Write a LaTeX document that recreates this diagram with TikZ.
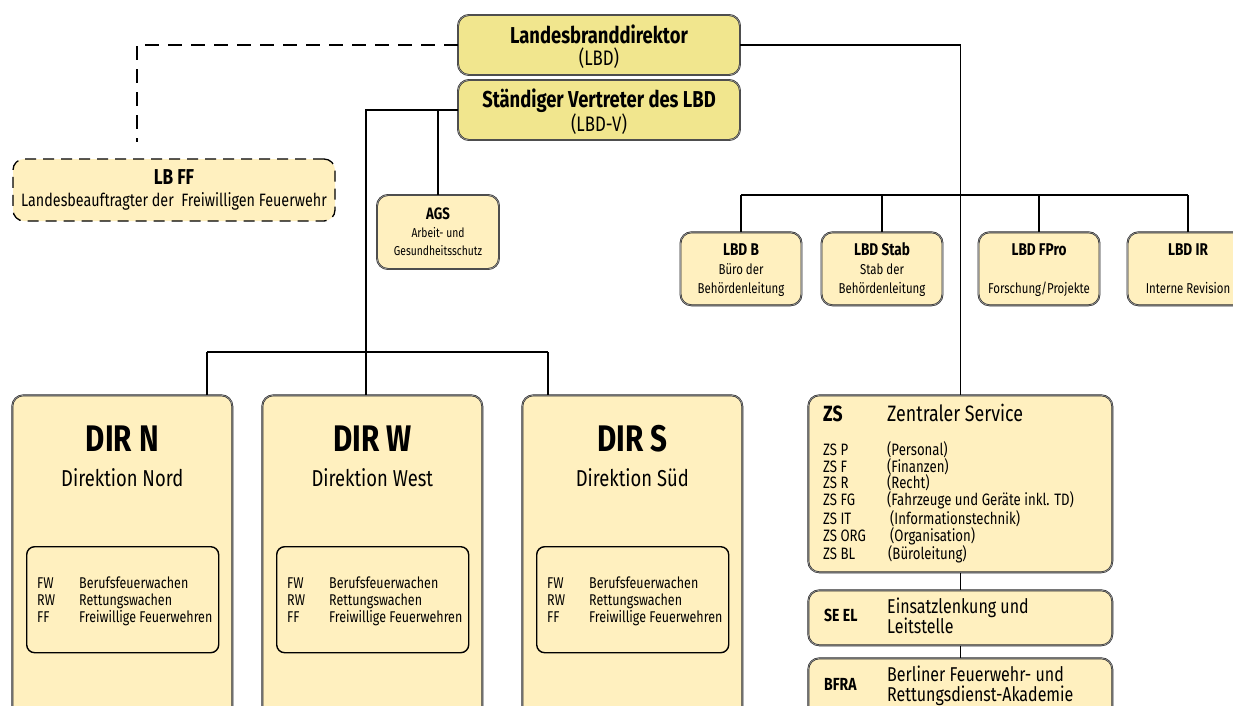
\documentclass[tikz,border=0pt]{standalone}
\usepackage{fontspec}
\setmainfont{Fira Sans}[FakeStretch=0.8]
\usetikzlibrary{positioning}
\definecolor{headfill}{HTML}{F1E68E}
\definecolor{unitfill}{HTML}{FFF0BF}
\newcommand{\fsz}[2]{\fontsize{#1pt}{#2pt}\selectfont}
\tikzset{unit box/.style={draw=black!85,double=black!40,double distance=0.7pt,line width=0.6pt,
                          rounded corners=11pt,fill=unitfill,inner sep=0pt,anchor=north west},
         head box/.style={unit box,fill=headfill,anchor=center,align=center,text depth=0pt,
                          minimum width=282pt,minimum height=60pt},
         ff box/.style={draw=black,line width=1.3pt,dash pattern=on 11pt off 7pt,rounded corners=11pt,
                        fill=unitfill,align=center,minimum width=322pt,minimum height=62pt,inner sep=0pt},
         list box/.style={draw=black,line width=1.4pt,rounded corners=8pt,anchor=north west,
                          minimum width=192pt,minimum height=106pt},
         txt/.style={inner sep=0pt},
         link/.style={draw=black,line width=1.3pt},
         ff link/.style={draw=black,line width=1.3pt,dash pattern=on 14pt off 9pt},
            }

\begin{document}
\begin{tikzpicture}[x=1pt,y=-1pt]
    \useasboundingbox (0,0) rectangle (1233,705);
    \clip (0,0) rectangle (1233,705);

    % Leitung
    \node[head box,font=\fsz{21}{22.5}] (lbd) at (599,45)
        {{\bfseries\fsz{23}{22.5}Landesbranddirektor}\\(LBD)};
    \node[head box,font=\fsz{21}{22.5}] (lbdv) at (599,110)
        {{\bfseries\fsz{23}{22.5}Ständiger Vertreter des LBD}\\(LBD-V)};

    % Beauftragter FF
    \node[ff box,font=\fsz{17.9}{22}] (lbff) at (174,190)
        {{\bfseries\fsz{21.5}{22}LB FF}\\Landesbeauftragter der\ \ Freiwilligen Feuerwehr};
    \coordinate (ffend) at (137,142);

    % AGS
    \node[unit box,anchor=center,align=center,minimum width=122pt,minimum height=74pt,
          font=\fsz{12.9}{18}] (ags) at (438,232)
        {{\bfseries\fsz{16.5}{18}AGS}\\Arbeit- und\\Gesundheitsschutz};

    % Stabsstellen
    \coordinate (staffbus) at (0,195);
    \foreach \nm/\cx/\ttl/\desc in {lbdb/741/LBD B/{Büro der\\Behördenleitung},
                                    lbdstab/882/LBD Stab/{Stab der\\Behördenleitung},
                                    lbdfpro/1039/LBD FPro/{Forschung/Projekte},
                                    lbdir/1188/LBD IR/{Interne Revision}} {
        \node[unit box,anchor=north,minimum width=121pt,minimum height=73pt] (\nm) at (\cx,232) {};
        \node[txt,anchor=base,font=\fsz{17}{18}\bfseries] (\nm-title) at ([yshift=-23pt]\nm.north) {\ttl};
        \node[txt,anchor=south,align=center,text depth=3pt,font=\fsz{14.3}{19}] (\nm-desc)
            at ([yshift=9pt]\nm.south) {\desc};
        \draw[link] (\nm.north) -- (\nm.north |- staffbus);
    }
    \draw[link] (lbdb.north |- staffbus) -- (lbdir.north |- staffbus);

    % Direktionen
    \foreach \nm/\x/\lt/\nam/\jx in {dirn/12/N/Nord/207, dirw/262/W/West/366, dirs/522/S/Süd/548} {
        \node[unit box,minimum width=220pt,minimum height=330pt] (\nm) at (\x,395) {};
        \node[txt,font=\fsz{37}{38}\bfseries] (\nm-title) at ([yshift=-44pt]\nm.north) {DIR \lt};
        \node[txt,font=\fsz{23}{26}] (\nm-name) at ([yshift=-83pt]\nm.north) {Direktion \nam};
        \node[list box] (\nm-list) at ([xshift=14pt,yshift=-151pt]\nm.north west) {};
        \node[txt,anchor=west,align=left,font=\fsz{15.6}{17}] (\nm-text)
            at ([xshift=11pt,yshift=-55pt]\nm-list.north west)
            {\makebox[42pt][l]{FW}Berufsfeuerwachen\\
             \makebox[42pt][l]{RW}Rettungswachen\\
             \makebox[42pt][l]{FF}Freiwillige Feuerwehren};
        \coordinate (\nm-j) at (\jx,352);
        \draw[link] (\nm-j) -- (\nm-j |- \nm.north);
    }
    \draw[link] (dirn-j) -- (dirs-j);

    % Zentraler Service und weitere Abteilungen
    \node[unit box,minimum width=304pt,minimum height=177pt] (zs) at (808,395) {};
    \node[txt,anchor=base west,font=\fsz{22}{24}\bfseries] (zs-code) at ([xshift=15pt,yshift=-26pt]zs.north west) {ZS};
    \node[txt,anchor=base west,font=\fsz{22.3}{24}] (zs-name) at ([xshift=64pt]zs-code.base west) {Zentraler Service};
    \node[txt,anchor=north west,align=left,font=\fsz{16.5}{16.9}] (zs-list) at ([xshift=15pt,yshift=-46pt]zs.north west)
        {\makebox[64pt][l]{ZS P}(Personal)\\
         \makebox[64pt][l]{ZS F}(Finanzen)\\
         \makebox[64pt][l]{ZS R}(Recht)\\
         \makebox[64pt][l]{ZS FG}(Fahrzeuge und Geräte inkl. TD)\\
         \makebox[67pt][l]{ZS IT}(Informationstechnik)\\
         \makebox[67pt][l]{ZS ORG}(Organisation)\\
         \makebox[65pt][l]{ZS BL}(Büroleitung)};

    \node[unit box,minimum width=304pt,minimum height=55pt] (seel) at (808,590) {};
    \node[txt,anchor=base west,font=\fsz{17.5}{18}\bfseries] (seel-code) at ([xshift=16pt,yshift=-31pt]seel.north west) {SE EL};
    \node[txt,anchor=west,align=left,font=\fsz{20}{20}] (seel-name) at ([xshift=79pt,yshift=-26pt]seel.north west)
        {Einsatzlenkung und\\Leitstelle};

    \node[unit box,minimum width=304pt,minimum height=60pt] (bfra) at (808,658) {};
    \node[txt,anchor=base west,font=\fsz{17.5}{18}\bfseries] (bfra-code) at ([xshift=16pt,yshift=-32pt]bfra.north west) {BFRA};
    \node[txt,anchor=west,align=left,font=\fsz{20}{20}] (bfra-name) at ([xshift=79pt,yshift=-28pt]bfra.north west)
        {Berliner Feuerwehr- und\\Rettungsdienst-Akademie};

    % Verbindungen
    \draw[ff link] (lbd.west) -| (ffend);
    \draw[link] (lbdv.west) -| (dirw-j);
    \draw[link] (ags.north) |- (lbdv.west);
    \draw[link] (lbd.east) -| (zs.north);
    \draw[link] (zs.south) -- (seel.north);
    \draw[link] (seel.south) -- (bfra.north);

\end{tikzpicture}
\end{document}
